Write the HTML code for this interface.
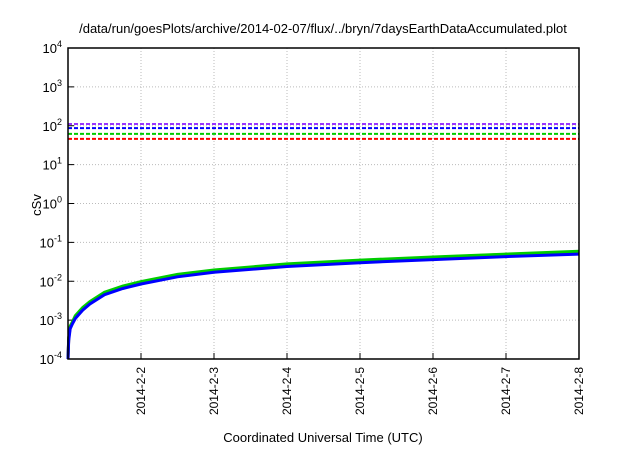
<!DOCTYPE html>
<html><head><meta charset="utf-8"><style>
body{margin:0;background:#fff;}
svg text{font-family:"Liberation Sans",sans-serif;fill:#000;}
</style></head><body>
<svg id="c" width="640" height="448" xmlns="http://www.w3.org/2000/svg"></svg>
<script>
const dayTicks=["2014-2-2","2014-2-3","2014-2-4","2014-2-5","2014-2-6","2014-2-7","2014-2-8"];
const yExps=[-4,-3,-2,-1,0,1,2,3,4];
const curveDays=[0,0.01,0.03,0.06,0.1,0.2,0.3,0.5,0.75,1,1.5,2,3,4,5,6,7];
const blueVals=[0.0001,0.0003,0.0006,0.0008,0.0011,0.0018,0.0026,0.0045,0.0065,0.0085,0.013,0.017,0.024,0.03,0.036,0.043,0.05];
const greenVals=[0.0001,0.00035,0.0007,0.0009,0.0013,0.0021,0.003,0.0052,0.0075,0.0098,0.015,0.0195,0.028,0.035,0.042,0.05,0.059];
const redVals=[0.0001,0.00034,0.00068,0.00088,0.00125,0.002,0.0029,0.005,0.0072,0.0094,0.0145,0.019,0.027,0.034,0.041,0.049,0.057];
const limitVals=[111,87,62,46];
const limitColors=["#9933ff","#0000ff","#00cc00","#ff0000"];
const L=68,R=579,T=48,B=359;
const xs=d=>L+(R-L)*d/7;
const ys=v=>T+(4-Math.log10(v))*(B-T)/8;
const svg=document.getElementById('c');const NS="http://www.w3.org/2000/svg";
function mk(t,a,p){const e=document.createElementNS(NS,t);for(const k in a)e.setAttribute(k,a[k]);(p||svg).appendChild(e);return e;}
// grid
yExps.forEach(e=>{const y=ys(Math.pow(10,e));
 if(e>-4&&e<4){const g=mk('line',{x1:L,x2:R,y1:y,y2:y,stroke:'#bbb','stroke-dasharray':'1,2'});}
 const tk=mk('line',{x1:L,x2:L+6,y1:y,y2:y,stroke:'#000'});
 const t=mk('text',{x:L-6,y:y+5,'text-anchor':'end','font-size':13});
 t.appendChild(document.createTextNode('10'));const s=mk('tspan',{dy:-6,'font-size':9},t);s.textContent=e;});
dayTicks.forEach((lab,i)=>{const x=xs(i+1);
 const g=mk('line',{x1:x,x2:x,y1:T,y2:B,stroke:'#bbb','stroke-dasharray':'1,2'});
 const tk=mk('line',{x1:x,x2:x,y1:B,y2:B-6,stroke:'#000'});
 const t=mk('text',{x:0,y:0,'text-anchor':'end','font-size':12,transform:`translate(${x+4},${B+8}) rotate(-90)`});t.textContent=lab;});
limitVals.forEach((v,i)=>{const y=ys(v);const l=mk('line',{x1:L,x2:R,y1:y,y2:y,stroke:limitColors[i],'stroke-width':2,'stroke-dasharray':'4,2'});});
[[redVals,'#ff0000'],[greenVals,'#00cc00'],[blueVals,'#0000ff']].forEach(([vals,c])=>{
 const d=curveDays.map((dd,i)=>(i?'L':'M')+xs(dd).toFixed(1)+','+ys(vals[i]).toFixed(1)).join('');
 const p=mk('path',{d:d,fill:'none',stroke:c,'stroke-width':3});});
const f=mk('rect',{x:L,y:T,width:R-L,height:B-T,fill:'none',stroke:'#000','stroke-width':1.5});
const tt=mk('text',{x:323,y:33,'text-anchor':'middle','font-size':13});tt.textContent='/data/run/goesPlots/archive/2014-02-07/flux/../bryn/7daysEarthDataAccumulated.plot';
const xt=mk('text',{x:323,y:442,'text-anchor':'middle','font-size':13});xt.textContent='Coordinated Universal Time (UTC)';
const yt=mk('text',{x:0,y:0,'text-anchor':'middle','font-size':13,transform:'translate(41,205) rotate(-90)'});yt.textContent='cSv';
</script>
</body></html>
